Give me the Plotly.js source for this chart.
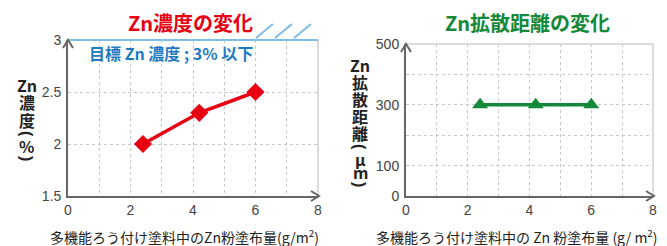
<!DOCTYPE html>
<html><head><meta charset="utf-8">
<script src="https://cdn.plot.ly/plotly-3.0.1.min.js"></script>
<style>html,body{margin:0;padding:0;background:#fff}#c{width:667px;height:246px}</style>
</head><body><div id="c"></div>
<script>
const xAmount = [2.4, 4.2, 6.0];
const znConc = [2.0, 2.3, 2.5];
const xAmount2 = [2.4, 4.2, 6.0];
const znDist = [300, 300, 300];
const xTickVals = [0,1,2,3,4,5,6,7,8];
const xTickText = ['0','','2','','4','','6','','8'];
const y1TickVals = [1.5,2,2.5,3];
const y1TickText = ['1.5','2','2.5','3'];
const y2TickVals = [0,100,200,300,400,500];
const y2TickText = ['0','100','','300','','500'];
const leftTitle = 'Zn濃度の変化';
const rightTitle = 'Zn拡散距離の変化';
const xTitle1 = '多機能ろう付け塗料中のZn粉塗布量(g/m<sup>2</sup>)';
const xTitle2 = '多機能ろう付け塗料中の Zn 粉塗布量 (g/ m<sup>2</sup>)';
const targetText = '目標 Zn 濃度 ; 3% 以下';
const yTitle1Chars = ['Zn','濃','度','(','%',')'];
const yTitle2Chars = ['Zn','拡','散','距','離','(','μ','m',')'];

const W=667,H=246;
const px=x=>x/W, py=y=>1-y/H;
const RED='#e60012', GREEN='#14893a', BLUE='#1f7bc0', LBLUE='#7fbce6';
const AX='#666', GRID='#c8c8c8';
const tickFont={family:'Liberation Sans, Arial, sans-serif',size:14,color:'#444'};
const jp='Noto Sans CJK JP, sans-serif';

const traces=[
 {x:xAmount,y:znConc,type:'scatter',mode:'lines+markers',xaxis:'x',yaxis:'y',
  line:{color:RED,width:3.5},marker:{symbol:'diamond',size:14,color:RED}},
 {x:xAmount2,y:znDist,type:'scatter',mode:'lines+markers',xaxis:'x2',yaxis:'y2',
  line:{color:GREEN,width:3.5},marker:{symbol:'triangle-up',size:14,color:GREEN}}
];

function xa(domain){return {domain:domain,range:[0,8],tickvals:xTickVals,ticktext:xTickText,
 showgrid:true,gridcolor:GRID,griddash:'dot',gridwidth:1,zeroline:false,
 showline:true,linecolor:AX,linewidth:2,ticks:'',tickfont:tickFont,fixedrange:true};}
function ya(domain,range,tv,tt,anchor){return {domain:domain,range:range,tickvals:tv,ticktext:tt,anchor:anchor,
 showgrid:true,gridcolor:GRID,griddash:'dot',gridwidth:1,zeroline:false,
 showline:true,linecolor:AX,linewidth:2,ticks:'',tickfont:tickFont,ticklabelstandoff:2};}

const L={x0:68,x1:318,y0:40,y1:196}, R={x0:406,x1:653,y0:44,y1:196};
const layout={width:W,height:H,margin:{l:0,r:0,t:0,b:0},showlegend:false,
 paper_bgcolor:'#fff',plot_bgcolor:'#fff',
 xaxis:Object.assign(xa([px(L.x0),px(L.x1)]),{anchor:'y'}),
 yaxis:ya([py(L.y1),py(L.y0)],[1.5,3],y1TickVals,y1TickText,'x'),
 xaxis2:Object.assign(xa([px(R.x0),px(R.x1)]),{anchor:'y2'}),
 yaxis2:ya([py(R.y1),py(R.y0)],[0,500],y2TickVals,y2TickText,'x2'),
 shapes:[],annotations:[]};

function line(x0,y0,x1,y1,color,w){layout.shapes.push({type:'line',xref:'paper',yref:'paper',
 x0:px(x0),y0:py(y0),x1:px(x1),y1:py(y1),line:{color:color,width:w},layer:'above'});}
function chevUp(x,y){layout.shapes.push({type:'path',xref:'paper',yref:'paper',
 path:`M${px(x-5)},${py(y+8)} L${px(x)},${py(y)} L${px(x+5)},${py(y+8)}`,line:{color:AX,width:2}});}
function chevRight(x,y){layout.shapes.push({type:'path',xref:'paper',yref:'paper',
 path:`M${px(x-8)},${py(y-5)} L${px(x)},${py(y)} L${px(x-8)},${py(y+5)}`,line:{color:AX,width:2}});}

// left chart decorations
line(L.x1,L.y0,L.x1,L.y1,'#d0d0d0',1.5);
line(L.x0,L.y0,L.x1,L.y0,LBLUE,2);
[[256,273],[275,292],[294,311]].forEach(a=>line(a[0],38,a[1],24,LBLUE,2));
chevUp(L.x0,L.y0); chevRight(L.x1+1,L.y1);
// right chart decorations
line(R.x1,R.y0,R.x1,R.y1,'#d0d0d0',1.5);
line(R.x0,R.y0,R.x1,R.y0,'#d0d0d0',1.5);
chevUp(R.x0,R.y0); chevRight(R.x1+1,R.y1);

function ann(text,x,y,size,color,opts){layout.annotations.push(Object.assign({text:text,xref:'paper',yref:'paper',
 x:px(x),y:py(y),showarrow:false,xanchor:'center',yanchor:'middle',
 font:{family:jp,size:size,color:color}},opts||{}));}
ann('<b>'+leftTitle+'</b>',190,22,20,RED);
ann('<b>'+rightTitle+'</b>',527,22,20,GREEN);
ann('<b>'+targetText+'</b>',87,53,16,BLUE,{xanchor:'left'});
const y1pos=[85,102,120,134,146,159];
yTitle1Chars.forEach((c,i)=>ann('<b>'+c+'</b>',27,y1pos[i],16,'#222',
  (c==='('||c===')')?{textangle:90,font:{family:'Liberation Sans, Arial',size:16,color:'#222'}}:{}));
const y2pos=[65,82,99,116,133,147,159,172,184];
yTitle2Chars.forEach((c,i)=>ann('<b>'+c+'</b>',360,y2pos[i],16,'#222',
  (c==='('||c===')')?{textangle:90,font:{family:'Liberation Sans, Arial',size:16,color:'#222'}}:{}));
ann(xTitle1,184,236,14,'#222');
ann(xTitle2,517,236,14,'#222');

Plotly.newPlot('c',traces,layout,{staticPlot:true,displayModeBar:false});
</script></body></html>
